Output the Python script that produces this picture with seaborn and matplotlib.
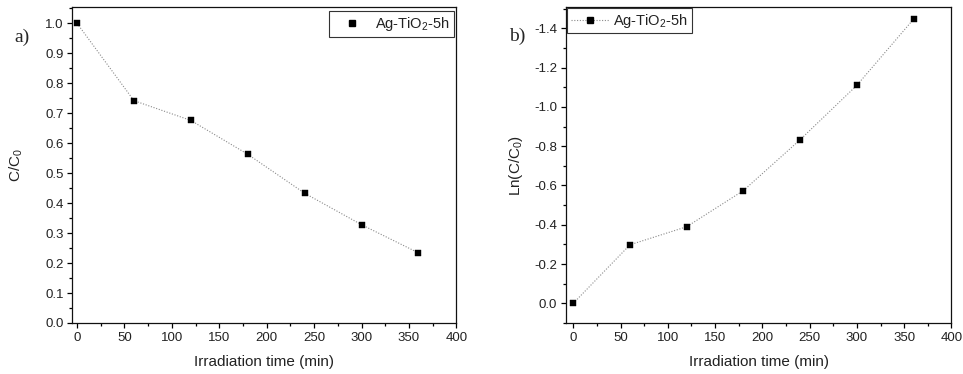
import numpy as np
import pandas as pd
import matplotlib
matplotlib.use("Agg")
import matplotlib.pyplot as plt
from matplotlib.lines import Line2D
from matplotlib.ticker import MultipleLocator, FormatStrFormatter
import seaborn as sns

# ---- data ----
time_min = [0, 60, 120, 180, 240, 300, 360]
c_ratio = [1.0, 0.742, 0.676, 0.563, 0.433, 0.328, 0.234]
ln_ratio = [0.0, -0.298, -0.390, -0.574, -0.833, -1.110, -1.447]
series_label = "Ag-TiO$_{\\mathregular{2}}$-5h"
xlabel = "Irradiation time (min)"
ylabel_a = "C/C$_{\\mathregular{0}}$"
ylabel_b = "Ln(C/C$_{\\mathregular{0}}$)"
panel_labels = ["a)", "b)"]

sns.set_style("ticks")
plt.rcParams["font.family"] = ["Liberation Sans", "DejaVu Sans"]
plt.rcParams["axes.unicode_minus"] = False
plt.rcParams["mathtext.default"] = "regular"

df_a = pd.DataFrame({"t": time_min, "v": c_ratio})
df_b = pd.DataFrame({"t": time_min, "v": ln_ratio})

fig = plt.figure(figsize=(9.63, 3.74), dpi=100)
ax_a = fig.add_axes([0.0751, 0.1364, 0.4739 - 0.0751, 0.980 - 0.1364])
ax_b = fig.add_axes([0.5874, 0.1364, 0.988 - 0.5874, 0.980 - 0.1364])

line_color = "#8a8a8a"
tick_color = "#222222"

for ax, df in [(ax_a, df_a), (ax_b, df_b)]:
    sns.lineplot(data=df, x="t", y="v", ax=ax, color=line_color,
                 linestyle=(0, (1, 1.5)), linewidth=0.8, legend=False)
    sns.scatterplot(data=df, x="t", y="v", ax=ax, color="black", marker="s",
                    s=22, edgecolor="black", linewidth=0.3, legend=False, zorder=3)
    ax.set_xlim(-5 if ax is ax_a else -8, 400)
    ax.xaxis.set_major_locator(MultipleLocator(50))
    ax.xaxis.set_minor_locator(MultipleLocator(25))
    ax.tick_params(which="both", direction="out", top=False, right=False,
                   colors="black", labelcolor=tick_color, labelsize=9.5, width=0.9)
    ax.tick_params(which="major", length=3.8, pad=2.5)
    ax.tick_params(which="minor", length=2.3)
    for sp in ax.spines.values():
        sp.set_visible(True)
        sp.set_color("#111111")
        sp.set_linewidth(0.9)
    ax.set_xlabel(xlabel, fontsize=11, color=tick_color)
    ax.xaxis.set_label_coords(0.5, -0.10)

# panel a
ax_a.set_ylim(0, 1.053)
ax_a.yaxis.set_major_locator(MultipleLocator(0.1))
ax_a.yaxis.set_minor_locator(MultipleLocator(0.05))
ax_a.yaxis.set_major_formatter(FormatStrFormatter("%.1f"))
ax_a.set_ylabel(ylabel_a, fontsize=11, color=tick_color)
ax_a.yaxis.set_label_coords(-0.123, 0.5)

# panel b
ax_b.set_ylim(0.1, -1.506)
ax_b.yaxis.set_major_locator(MultipleLocator(0.2))
ax_b.yaxis.set_minor_locator(MultipleLocator(0.1))
ax_b.yaxis.set_major_formatter(FormatStrFormatter("%.1f"))
ax_b.set_ylabel(ylabel_b, fontsize=11, color=tick_color)
ax_b.yaxis.set_label_coords(-0.105, 0.5)

# legends
h_a = Line2D([], [], linestyle="none", marker="s", markersize=5,
             color="black")
h_b = Line2D([], [], linestyle=(0, (1, 1.5)), linewidth=0.8, color=line_color,
             marker="s", markersize=5, markerfacecolor="black",
             markeredgecolor="black")
leg_kw = dict(fontsize=10.5, frameon=True, fancybox=False, framealpha=1,
              edgecolor="#333333", borderpad=0.25, handlelength=2.6,
              handletextpad=0.3, borderaxespad=0)
la = ax_a.legend([h_a], [series_label], loc="upper right",
                 bbox_to_anchor=(0.993, 0.988), **leg_kw)
lb = ax_b.legend([h_b], [series_label], loc="upper left",
                 bbox_to_anchor=(0.004, 0.998), **leg_kw)
for lg in (la, lb):
    lg.get_frame().set_linewidth(0.8)
    for t in lg.get_texts():
        t.set_color(tick_color)

fig.text(0.023, 0.901, panel_labels[0], fontsize=14, ha="center", va="center",
         family=["Liberation Serif", "DejaVu Serif"])
fig.text(0.537, 0.904, panel_labels[1], fontsize=14, ha="center", va="center",
         family=["Liberation Serif", "DejaVu Serif"])

fig.savefig("out.png", dpi=100)
